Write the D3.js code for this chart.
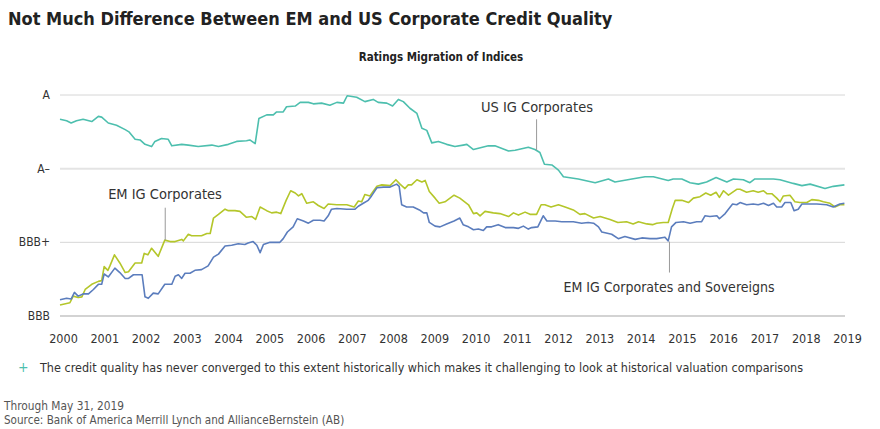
<!DOCTYPE html>
<html>
<head>
<meta charset="utf-8">
<script src="https://cdn.jsdelivr.net/npm/d3@7"></script>
<style>
  body { margin: 0; background: #fff; }
  svg { display: block; }
</style>
</head>
<body>
<div id="chart"></div>
<script>
// Rating notches: 0 = BBB, 1 = BBB+, 2 = A-, 3 = A
const ratingLabels = ['BBB', 'BBB+', 'A–', 'A'];
const yearTicks = d3.range(2000, 2020);

const usDates = [2000.00,2000.16,2000.27,2000.40,2000.56,2000.77,2000.93,2001.01,2001.17,2001.37,2001.58,2001.67,2001.82,2001.94,2002.06,2002.22,2002.30,2002.46,2002.62,2002.71,2002.95,2003.11,2003.35,2003.68,2003.84,2004.08,2004.28,2004.52,2004.60,2004.73,2004.82,2005.01,2005.17,2005.25,2005.41,2005.49,2005.70,2005.82,2006.02,2006.14,2006.34,2006.54,2006.71,2006.87,2006.96,2007.19,2007.39,2007.59,2007.71,2007.92,2008.06,2008.20,2008.32,2008.48,2008.65,2008.77,2008.89,2009.01,2009.17,2009.37,2009.57,2009.77,2009.86,2010.02,2010.38,2010.54,2010.87,2011.03,2011.35,2011.51,2011.63,2011.74,2011.92,2012.08,2012.20,2012.56,2012.97,2013.29,2013.45,2013.86,2014.18,2014.38,2014.74,2014.86,2015.07,2015.27,2015.47,2015.67,2015.90,2016.16,2016.32,2016.56,2016.72,2016.84,2017.29,2017.45,2017.77,2017.98,2018.18,2018.54,2018.74,2019.01];
const usValues = [2.67,2.65,2.62,2.65,2.67,2.64,2.71,2.70,2.62,2.59,2.53,2.50,2.40,2.39,2.33,2.30,2.37,2.41,2.40,2.31,2.33,2.32,2.30,2.32,2.30,2.33,2.37,2.38,2.39,2.34,2.68,2.73,2.73,2.77,2.77,2.84,2.85,2.90,2.90,2.88,2.89,2.86,2.90,2.89,2.99,2.97,2.91,2.94,2.90,2.89,2.85,2.94,2.91,2.82,2.75,2.55,2.52,2.35,2.37,2.33,2.30,2.32,2.33,2.26,2.31,2.31,2.24,2.25,2.29,2.26,2.22,2.06,2.05,1.98,1.89,1.86,1.81,1.86,1.82,1.86,1.89,1.89,1.84,1.86,1.86,1.81,1.79,1.82,1.88,1.82,1.86,1.85,1.81,1.86,1.86,1.85,1.80,1.77,1.79,1.73,1.76,1.78];

const emCorpDates = [2000.00,2000.24,2000.32,2000.44,2000.53,2000.61,2000.77,2000.93,2001.01,2001.07,2001.16,2001.21,2001.32,2001.45,2001.58,2001.66,2001.82,2001.98,2002.04,2002.13,2002.22,2002.38,2002.54,2002.67,2002.79,2002.95,2002.99,2003.11,2003.19,2003.43,2003.56,2003.64,2003.72,2003.84,2004.00,2004.08,2004.24,2004.36,2004.52,2004.65,2004.74,2004.85,2005.01,2005.13,2005.25,2005.35,2005.48,2005.59,2005.70,2005.78,2005.86,2005.98,2006.14,2006.26,2006.40,2006.50,2006.71,2006.95,2007.13,2007.23,2007.31,2007.39,2007.51,2007.68,2007.80,2008.00,2008.14,2008.24,2008.36,2008.44,2008.52,2008.65,2008.77,2008.85,2008.95,2009.09,2009.19,2009.33,2009.55,2009.69,2009.90,2010.02,2010.10,2010.18,2010.30,2010.50,2010.66,2010.87,2010.99,2011.11,2011.27,2011.39,2011.55,2011.66,2011.75,2011.90,2012.08,2012.24,2012.44,2012.60,2012.72,2012.93,2013.09,2013.33,2013.52,2013.73,2013.89,2014.02,2014.22,2014.36,2014.46,2014.62,2014.74,2014.84,2014.91,2015.07,2015.23,2015.35,2015.51,2015.65,2015.77,2015.90,2015.98,2016.08,2016.20,2016.40,2016.48,2016.64,2016.80,2016.92,2017.05,2017.13,2017.25,2017.37,2017.45,2017.53,2017.69,2017.81,2017.93,2018.10,2018.22,2018.38,2018.50,2018.66,2018.78,2018.90,2019.01];
const emCorpValues = [0.15,0.18,0.27,0.25,0.26,0.36,0.43,0.47,0.48,0.67,0.62,0.68,0.83,0.72,0.59,0.60,0.72,0.72,0.85,0.83,0.92,0.81,1.03,1.01,1.01,1.04,1.02,1.11,1.09,1.09,1.12,1.12,1.33,1.38,1.45,1.43,1.43,1.42,1.34,1.35,1.31,1.48,1.43,1.40,1.41,1.39,1.57,1.70,1.67,1.63,1.66,1.53,1.55,1.50,1.46,1.52,1.51,1.51,1.48,1.56,1.55,1.65,1.63,1.76,1.78,1.77,1.85,1.79,1.73,1.78,1.78,1.85,1.82,1.84,1.69,1.60,1.53,1.55,1.64,1.60,1.51,1.39,1.40,1.36,1.42,1.40,1.39,1.35,1.40,1.37,1.41,1.38,1.38,1.51,1.51,1.48,1.51,1.48,1.44,1.38,1.39,1.33,1.35,1.31,1.27,1.28,1.25,1.28,1.25,1.24,1.26,1.27,1.27,1.46,1.57,1.57,1.54,1.60,1.62,1.67,1.64,1.68,1.61,1.70,1.64,1.72,1.72,1.68,1.70,1.68,1.70,1.66,1.66,1.60,1.55,1.63,1.64,1.55,1.54,1.54,1.58,1.57,1.55,1.53,1.48,1.51,1.51];

const emAllDates = [2000.00,2000.16,2000.27,2000.35,2000.44,2000.56,2000.69,2000.81,2000.93,2001.01,2001.07,2001.17,2001.33,2001.45,2001.58,2001.66,2001.78,2001.99,2002.06,2002.14,2002.26,2002.38,2002.54,2002.71,2002.79,2002.87,2002.95,2003.03,2003.15,2003.27,2003.43,2003.59,2003.72,2003.84,2004.00,2004.16,2004.32,2004.48,2004.56,2004.68,2004.77,2004.85,2004.93,2005.09,2005.33,2005.41,2005.51,2005.65,2005.75,2005.90,2006.02,2006.14,2006.30,2006.40,2006.50,2006.58,2006.71,2006.95,2007.15,2007.23,2007.35,2007.47,2007.55,2007.68,2007.84,2008.00,2008.16,2008.22,2008.28,2008.40,2008.56,2008.71,2008.81,2008.89,2008.95,2009.09,2009.21,2009.37,2009.55,2009.69,2009.77,2009.90,2010.02,2010.14,2010.26,2010.34,2010.46,2010.62,2010.79,2010.99,2011.11,2011.23,2011.35,2011.43,2011.58,2011.71,2011.80,2012.00,2012.16,2012.44,2012.64,2012.80,2012.93,2013.05,2013.13,2013.37,2013.53,2013.69,2013.94,2014.10,2014.30,2014.46,2014.66,2014.74,2014.82,2014.93,2015.11,2015.27,2015.43,2015.55,2015.63,2015.75,2015.92,2015.98,2016.12,2016.20,2016.30,2016.40,2016.48,2016.64,2016.80,2016.92,2017.05,2017.17,2017.29,2017.37,2017.49,2017.57,2017.71,2017.79,2017.89,2017.98,2018.18,2018.34,2018.58,2018.74,2018.90,2019.01];
const emAllValues = [0.22,0.24,0.23,0.32,0.27,0.30,0.30,0.36,0.43,0.43,0.57,0.53,0.65,0.59,0.51,0.51,0.56,0.56,0.26,0.24,0.31,0.30,0.43,0.43,0.54,0.56,0.51,0.58,0.58,0.62,0.63,0.68,0.80,0.84,0.95,0.96,0.98,0.97,0.99,1.01,0.96,0.86,0.97,1.00,1.00,1.05,1.14,1.21,1.32,1.29,1.26,1.30,1.30,1.29,1.36,1.45,1.46,1.45,1.45,1.49,1.53,1.57,1.63,1.74,1.75,1.75,1.79,1.76,1.51,1.48,1.48,1.44,1.40,1.40,1.27,1.22,1.21,1.25,1.29,1.33,1.24,1.21,1.17,1.18,1.16,1.21,1.21,1.24,1.20,1.20,1.19,1.22,1.18,1.20,1.21,1.36,1.29,1.29,1.28,1.28,1.26,1.27,1.26,1.21,1.14,1.11,1.05,1.08,1.04,1.06,1.05,1.05,1.07,1.02,1.21,1.27,1.28,1.26,1.28,1.28,1.36,1.35,1.36,1.32,1.39,1.45,1.52,1.51,1.54,1.51,1.52,1.51,1.53,1.50,1.53,1.48,1.48,1.54,1.54,1.43,1.45,1.52,1.52,1.52,1.51,1.48,1.52,1.53];

const seriesNames = ['US IG Corporates', 'EM IG Corporates', 'EM IG Corporates and Sovereigns'];
const seriesColors = ['#4dbfae', '#b4c62a', '#5b7dbd'];

const series = [
  { name: seriesNames[0], color: seriesColors[0], points: usDates.map((d, i) => [d, usValues[i]]) },
  { name: seriesNames[1], color: seriesColors[1], points: emCorpDates.map((d, i) => [d, emCorpValues[i]]) },
  { name: seriesNames[2], color: seriesColors[2], points: emAllDates.map((d, i) => [d, emAllValues[i]]) }
];

const width = 880, height = 429;
const margin = { left: 60, right: 36, top: 95, bottom: 113 };

const svg = d3.select('#chart').append('svg')
  .attr('width', width)
  .attr('height', height)
  .style('font-family', '"DejaVu Sans Condensed", "Liberation Sans Narrow", sans-serif');

const x = d3.scaleLinear().domain([2000, 2019]).range([margin.left, width - margin.right]);
const y = d3.scaleLinear().domain([0, 3]).range([height - margin.bottom, margin.top]);

// Title and subtitle
svg.append('text')
  .attr('x', 8).attr('y', 25)
  .attr('font-size', 18).attr('font-weight', 'bold').attr('fill', '#222')
  .text('Not Much Difference Between EM and US Corporate Credit Quality');

svg.append('text')
  .attr('x', 441).attr('y', 61)
  .attr('text-anchor', 'middle')
  .attr('font-size', 11.5).attr('font-weight', 'bold').attr('fill', '#222')
  .text('Ratings Migration of Indices');

// Gridlines
svg.append('g')
  .selectAll('line')
  .data([1, 2, 3])
  .join('line')
  .attr('x1', x(2000)).attr('x2', x(2019) + 1)
  .attr('y1', d => y(d)).attr('y2', d => y(d))
  .attr('stroke', d => d === 2 ? '#e4e4e4' : '#d6d6d6')
  .attr('stroke-width', d => d === 2 ? 2 : 1);

// Bottom axis line
svg.append('line')
  .attr('x1', x(2000)).attr('x2', x(2019) + 1)
  .attr('y1', y(0)).attr('y2', y(0))
  .attr('stroke', '#a8a8a8').attr('stroke-width', 1.2);

// Y labels
svg.append('g')
  .selectAll('text')
  .data(ratingLabels)
  .join('text')
  .attr('x', 50)
  .attr('y', (d, i) => y(i) + 4)
  .attr('text-anchor', 'end')
  .attr('font-size', 12).attr('fill', '#333')
  .text(d => d);

// X labels
svg.append('g')
  .selectAll('text')
  .data(yearTicks)
  .join('text')
  .attr('x', d => x(d) + 3.5)
  .attr('y', 343)
  .attr('text-anchor', 'middle')
  .attr('font-size', 12.5).attr('fill', '#333')
  .text(d => d);

// Lines
const line = d3.line()
  .x(d => x(d[0]))
  .y(d => y(d[1]));

svg.append('g')
  .selectAll('path')
  .data(series)
  .join('path')
  .attr('fill', 'none')
  .attr('stroke', d => d.color)
  .attr('stroke-width', 1.6)
  .attr('stroke-linejoin', 'round')
  .attr('d', d => line(d.points));

// Annotations: label + leader line
const annotations = [
  { text: seriesNames[0], year: 2011.55, v1: 2.67, v2: 2.25, tx: 537, ty: 112 },
  { text: seriesNames[1], year: 2002.55, v1: 1.47, v2: 1.03, tx: 165, ty: 199 },
  { text: seriesNames[2], year: 2014.77, v1: 1.01, v2: 0.59, tx: 669, ty: 292, size: 14 }
];

const ann = svg.append('g');
ann.selectAll('line')
  .data(annotations)
  .join('line')
  .attr('x1', d => x(d.year)).attr('x2', d => x(d.year))
  .attr('y1', d => y(d.v1)).attr('y2', d => y(d.v2))
  .attr('stroke', '#999').attr('stroke-width', 1);

ann.selectAll('text')
  .data(annotations)
  .join('text')
  .attr('x', d => d.tx).attr('y', d => d.ty)
  .attr('text-anchor', 'middle')
  .attr('font-size', d => d.size || 14.5).attr('fill', '#333')
  .text(d => d.text);

// Footnote
svg.append('text')
  .attr('x', 18).attr('y', 372)
  .attr('font-size', 14).attr('fill', '#4dbfae')
  .text('+');

svg.append('text')
  .attr('x', 40).attr('y', 372)
  .attr('font-size', 12.5).attr('fill', '#333')
  .text('The credit quality has never converged to this extent historically which makes it challenging to look at historical valuation comparisons');

svg.append('text')
  .attr('x', 4).attr('y', 410)
  .attr('font-size', 11.8).attr('fill', '#555')
  .text('Through May 31, 2019');

svg.append('text')
  .attr('x', 4).attr('y', 424)
  .attr('font-size', 11.6).attr('fill', '#555')
  .text('Source: Bank of America Merrill Lynch and AllianceBernstein (AB)');
</script>
</body>
</html>
